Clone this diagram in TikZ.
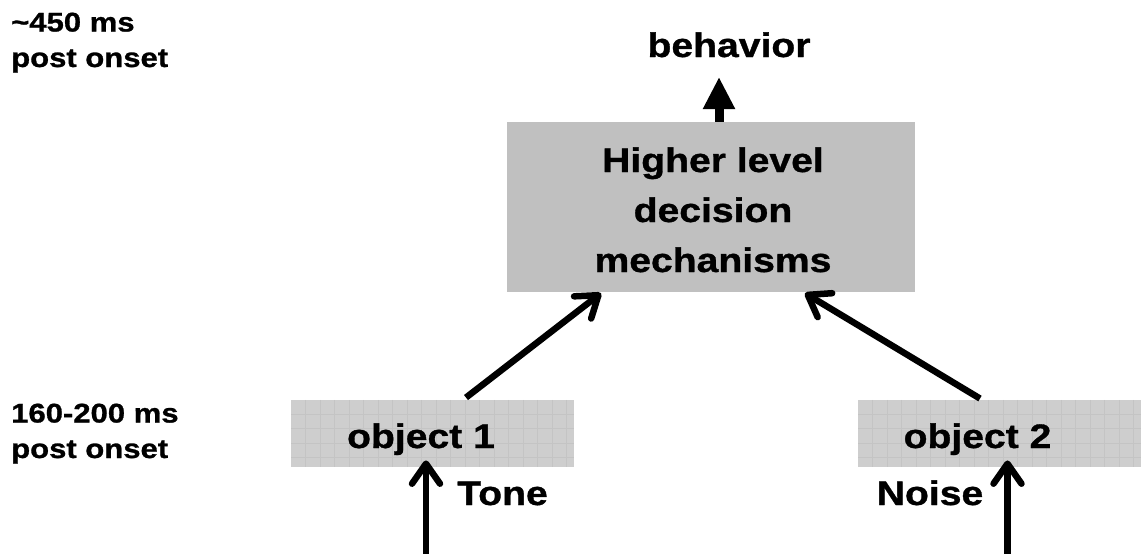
\documentclass[tikz,border=0pt]{standalone}
\usepackage{fontspec}
\setmainfont{Liberation Sans}[FakeStretch=1.15,BoldFeatures={FakeBold=1}]
\usetikzlibrary{arrows.meta,positioning}

\definecolor{decgray}{HTML}{C0C0C0}
\definecolor{objgray}{HTML}{CECECE}
\definecolor{gridgray}{HTML}{C4C4C4}

\begin{document}
\begin{tikzpicture}[x=1pt,y=-1pt,
  every node/.style={inner sep=0pt},
  big/.style={font=\fontsize{34}{50}\selectfont\bfseries,align=center},
  small/.style={font=\fontsize{27}{35.5}\selectfont\bfseries,align=left,anchor=base west},
  decbox/.style={fill=decgray,minimum width=408pt,minimum height=170pt},
  objbox/.style={fill=objgray,minimum width=283pt,minimum height=67.5pt,
    path picture={
      \foreach \i in {1,...,19}
        \draw[gridgray,line width=0.7pt] ([xshift=\i*14.5pt]path picture bounding box.north west)
          -- ([xshift=\i*14.5pt]path picture bounding box.south west);
      \foreach \j in {1,...,4}
        \draw[gridgray,line width=0.7pt] ([yshift=-\j*14.5pt]path picture bounding box.north west)
          -- ([yshift=-\j*14.5pt]path picture bounding box.north east);
    }},
  bigarrow/.style={line width=9pt,-{Triangle[length=32pt,width=30pt]}},
  arrow/.style={line width=6.5pt,-{Straight Barb[length=20pt,width=28pt,round]}}
]
  \useasboundingbox (0,0) rectangle (1141,554);

  % time labels (base = last line)
  \node[small] (t450) at (11,67) {\textasciitilde450 ms\\post onset};
  \node[small] (t160) at (11,458) {160-200 ms\\post onset};

  % decision stage
  \node[decbox] (dec) at (711,207) {};
  \node[big,anchor=base] (dectext) at (713,272) {Higher level\\decision\\mechanisms};
  \node[big,anchor=base] (beh) at (729,57) {behavior};
  \draw[bigarrow] ([xshift=8pt]dec.north) -- ([xshift=-10pt,yshift=-20pt]beh.base);

  % object stage
  \node[objbox] (obj1box) at (432.5,433.5) {};
  \node[objbox] (obj2box) at (999.5,433.5) {};
  \node[big,anchor=base] (obj1) at (421,448) {object 1};
  \node[big,anchor=base] (obj2) at (977.5,448) {object 2};
  \draw[arrow] ([xshift=33.5pt,yshift=2pt]obj1box.north) -- ([xshift=-110pt,yshift=-1pt]dec.south);
  \draw[arrow] ([xshift=-19.5pt,yshift=1pt]obj2box.north) -- ([xshift=94pt,yshift=-1pt]dec.south);

  % inputs
  \coordinate (tonein) at (426,554);
  \coordinate (noisein) at (1007.5,554);
  \node[big,anchor=base] (tone) at (502.5,505) {Tone};
  \node[big,anchor=base] (noise) at (930,505) {Noise};
  \draw[arrow] (tonein) -- ([xshift=-6.5pt,yshift=7pt]obj1box.south);
  \draw[arrow] (noisein) -- ([xshift=8pt,yshift=7pt]obj2box.south);
\end{tikzpicture}
\end{document}
